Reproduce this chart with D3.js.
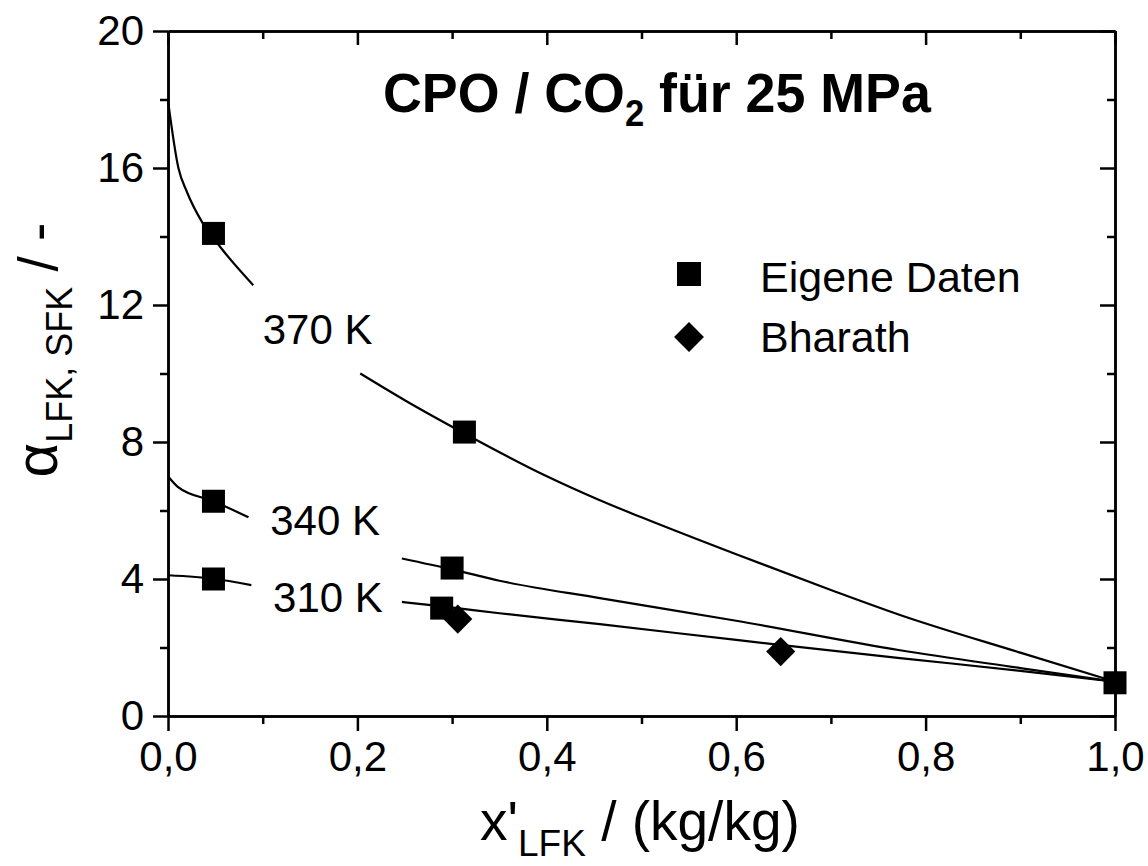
<!DOCTYPE html>
<html>
<head>
<meta charset="utf-8">
<script src="https://cdn.jsdelivr.net/npm/d3@7"></script>
<style>
  body { margin: 0; background: #fff; }
  svg text { font-family: Arial, "Liberation Sans", sans-serif; fill: #000; }
</style>
</head>
<body>
<div id="chart"></div>
<script>
// tick values
var xTicks = [0, 0.2, 0.4, 0.6, 0.8, 1.0];
var xMinor = [0.1, 0.3, 0.5, 0.7, 0.9];
var yTicks = [0, 4, 8, 12, 16, 20];
var yMinor = [2, 6, 10, 14, 18];

// measured points
var eigeneX = [0.048, 0.313, 0.048, 0.30, 0.048, 0.289, 1.0];
var eigeneY = [14.09, 8.29, 6.27, 4.32, 4.0, 3.15, 0.97];
var bharathX = [0.306, 0.647];
var bharathY = [2.83, 1.88];

// fitted curves (null = gap for the label)
var curve370X = [0, 0.011, 0.02, 0.036, 0.055, 0.09, null, 0.203, 0.25, 0.313, 0.4, 0.456, 0.5, 0.6, 0.7, 0.773, 0.9, 1.0];
var curve370Y = [17.97, 16.0, 15.3, 14.42, 13.7, 12.58, null, 10.0, 9.22, 8.25, 7.0, 6.3, 5.8, 4.72, 3.68, 2.95, 1.85, 1.0];
var curve340X = [0, 0.01, 0.05, 0.085, null, 0.247, 0.30, 0.35, 0.456, 0.6, 0.773, 0.9, 1.0];
var curve340Y = [7.0, 6.7, 6.25, 5.8, null, 4.6, 4.28, 3.95, 3.44, 2.78, 1.92, 1.4, 1.0];
var curve310X = [0, 0.05, 0.088, null, 0.247, 0.29, 0.35, 0.456, 0.6, 0.773, 0.9, 1.0];
var curve310Y = [4.11, 4.0, 3.82, null, 3.33, 3.2, 3.0, 2.68, 2.22, 1.69, 1.32, 1.0];

var curveNames = ["370 K", "340 K", "310 K"];
var legendNames = ["Eigene Daten", "Bharath"];

function init() {
    var w = 1148;
    var h = 866;
    var left = 168, right = 1115, top = 31, bottom = 716;

    var svg = d3.select("#chart")
        .append("svg")
        .attr("width", w)
        .attr("height", h);

    var x = d3.scaleLinear().domain([0, 1]).range([left, right]);
    var y = d3.scaleLinear().domain([0, 20]).range([bottom, top]);

    var locale = d3.formatLocale({decimal: ",", thousands: ".", grouping: [3], currency: ["", ""]});
    var fmt1 = locale.format(".1f");

    // axes
    function styleAxis(g) {
        g.selectAll("path.domain").attr("stroke", "#000").attr("stroke-width", 2.5);
        g.selectAll(".tick line").attr("stroke", "#000").attr("stroke-width", 2.5);
        g.selectAll(".tick text").attr("font-size", "42px");
    }

    svg.append("g")
        .attr("transform", `translate(0,${bottom})`)
        .call(d3.axisBottom(x).tickValues(xTicks).tickFormat(fmt1).tickSizeInner(15).tickSizeOuter(0).tickPadding(10))
        .call(styleAxis);
    svg.append("g")
        .attr("transform", `translate(0,${bottom})`)
        .call(d3.axisBottom(x).tickValues(xMinor).tickFormat("").tickSizeInner(8).tickSizeOuter(0))
        .call(styleAxis);

    svg.append("g")
        .attr("transform", `translate(0,${top})`)
        .call(d3.axisTop(x).tickValues(xTicks).tickFormat("").tickSizeInner(-14).tickSizeOuter(0))
        .call(styleAxis);
    svg.append("g")
        .attr("transform", `translate(0,${top})`)
        .call(d3.axisTop(x).tickValues(xMinor).tickFormat("").tickSizeInner(-8).tickSizeOuter(0))
        .call(styleAxis);

    svg.append("g")
        .attr("transform", `translate(${left},0)`)
        .call(d3.axisLeft(y).tickValues(yTicks).tickSizeInner(15).tickSizeOuter(0).tickPadding(9))
        .call(styleAxis);
    svg.append("g")
        .attr("transform", `translate(${left},0)`)
        .call(d3.axisLeft(y).tickValues(yMinor).tickFormat("").tickSizeInner(8).tickSizeOuter(0))
        .call(styleAxis);

    svg.append("g")
        .attr("transform", `translate(${right},0)`)
        .call(d3.axisRight(y).tickValues(yTicks).tickFormat("").tickSizeInner(-15).tickSizeOuter(0))
        .call(styleAxis);
    svg.append("g")
        .attr("transform", `translate(${right},0)`)
        .call(d3.axisRight(y).tickValues(yMinor).tickFormat("").tickSizeInner(-8).tickSizeOuter(0))
        .call(styleAxis);

    // curves
    var line = d3.line()
        .defined(d => d[0] !== null)
        .x(d => x(d[0]))
        .y(d => y(d[1]))
        .curve(d3.curveMonotoneX);

    [[curve370X, curve370Y], [curve340X, curve340Y], [curve310X, curve310Y]].forEach(function(c) {
        var pts = c[0].map((v, i) => [v, c[1][i]]);
        svg.append("path")
            .datum(pts)
            .attr("fill", "none")
            .attr("stroke", "#000")
            .attr("stroke-width", 2.2)
            .attr("d", line);
    });

    // markers
    var squares = eigeneX.map((v, i) => [v, eigeneY[i]]);
    svg.selectAll("rect.eigene")
        .data(squares)
        .enter()
        .append("rect")
        .attr("class", "eigene")
        .attr("x", d => x(d[0]) - 11.5)
        .attr("y", d => y(d[1]) - 11.5)
        .attr("width", 23)
        .attr("height", 23)
        .attr("fill", "#000");

    var diamond = d3.symbol().type(d3.symbolDiamond2).size(540);
    var diamonds = bharathX.map((v, i) => [v, bharathY[i]]);
    svg.selectAll("path.bharath")
        .data(diamonds)
        .enter()
        .append("path")
        .attr("class", "bharath")
        .attr("transform", d => `translate(${x(d[0])},${y(d[1])})`)
        .attr("d", diamond)
        .attr("fill", "#000");

    // curve labels
    var labelPos = [[0.1, 10.85], [0.108, 5.28], [0.111, 3.03]];
    curveNames.forEach(function(n, i) {
        svg.append("text")
            .attr("x", x(labelPos[i][0]))
            .attr("y", y(labelPos[i][1]))
            .attr("font-size", "42px")
            .text(n);
    });

    // title
    var title = svg.append("text")
        .attr("transform", "translate(383,112) scale(0.96,1)")
        .attr("font-size", "56px")
        .attr("font-weight", "bold");
    title.append("tspan").text("CPO / CO");
    title.append("tspan").attr("font-size", "36px").attr("dy", 14).text("2");
    title.append("tspan").attr("dy", -14).text(" für 25 MPa");

    // legend
    svg.append("rect")
        .attr("x", 689 - 12).attr("y", 274 - 12)
        .attr("width", 24).attr("height", 24)
        .attr("fill", "#000");
    svg.append("path")
        .attr("transform", "translate(689,337)")
        .attr("d", d3.symbol().type(d3.symbolDiamond2).size(570))
        .attr("fill", "#000");
    svg.append("text").attr("x", 760).attr("y", 292).attr("font-size", "43px").text(legendNames[0]);
    svg.append("text").attr("x", 760).attr("y", 352).attr("font-size", "43px").text(legendNames[1]);

    // x axis title
    var xt = svg.append("text")
        .attr("x", 480)
        .attr("y", 840)
        .attr("font-size", "55px");
    xt.append("tspan").text("x'");
    xt.append("tspan").attr("font-size", "37px").attr("dy", 16).text("LFK");
    xt.append("tspan").attr("dy", -16).text(" / (kg/kg)");

    // y axis title
    var yt = svg.append("text")
        .attr("transform", "translate(57,350) rotate(-90)")
        .attr("text-anchor", "middle")
        .attr("font-size", "55px");
    yt.append("tspan").attr("font-size", "60px").text("α");
    yt.append("tspan").attr("font-size", "36px").attr("dy", 15).text("LFK, SFK");
    yt.append("tspan").attr("dy", -15).text(" / -");
}

window.onload = init;
</script>
</body>
</html>
